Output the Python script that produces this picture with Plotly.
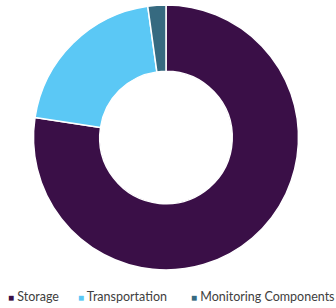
import plotly.graph_objects as go

labels = ["Storage", "Transportation", "Monitoring Components"]
values = [77.4, 20.4, 2.2]
colors = ["#3A0F47", "#5BC8F5", "#366A80"]
legend_x = [6, 76, 189]  # left pixel of each legend item

fig = go.Figure(go.Pie(
    labels=labels, values=values, hole=0.5, sort=False,
    direction="clockwise", rotation=0,
    marker=dict(colors=colors, line=dict(color="white", width=1.5)),
    textinfo="none", hoverinfo="label+percent", showlegend=False,
))

W, H = 336, 308
for lab, col, px in zip(labels, colors, legend_x):
    fig.add_annotation(
        xref="paper", yref="paper", x=px / (W - 4), y=-0.1, xanchor="left", yanchor="middle",
        text=f"<span style='font-size:10px;color:{col}'>■</span> {lab}",
        showarrow=False, font=dict(family="Lato, Open Sans, sans-serif", size=12.5, color="#404040"),
    )

fig.update_layout(
    width=W, height=H,
    margin=dict(l=0, r=4, t=5, b=38),
    paper_bgcolor="white", plot_bgcolor="white",
    font=dict(family="Lato, Open Sans, sans-serif", size=13, color="#404040"),
)
fig.write_html("out.html")
